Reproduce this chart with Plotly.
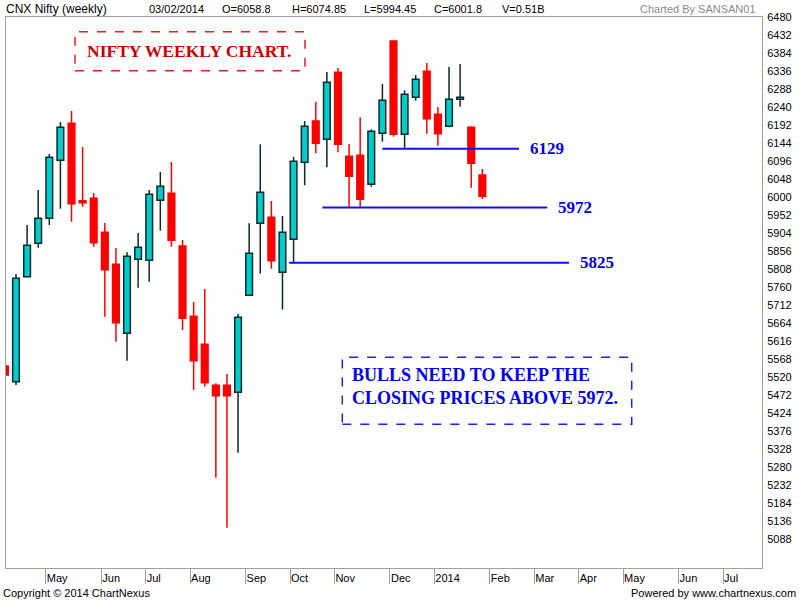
import plotly.graph_objects as go
import pandas as pd

# ---------------- data (weekly CNX Nifty, week starting 8 Apr 2013) ----------------
first_week = "2013-04-08"
n_slots = 70  # weekly slots shown on the axis (incl. empty future weeks)

opens = [5549.3, 5507.5, 5787.5, 5876.5, 5943.2, 6097.9, 6196.5, 5990.1, 5996.5, 5905.9,
         5820.5, 5636.5, 5833.9, 5831.2, 5991.2, 6009.9, 5869.3, 5681.9, 5607.2, 5497.9,
         5497.9, 5479.2, 5737.9, 5929.9, 5945.9, 5799.2, 5887.2, 6092.5, 6202.7, 6153.9,
         6332.5, 6108.5, 6111.2, 6033.9, 6169.9, 6416.0, 6167.2, 6265.9, 6335.2, 6220.5,
         6188.5, 6260.5, 6185.9, 6058.8]
highs = [5555.0, 5794.7, 5925.3, 6018.7, 6114.7, 6200.0, 6229.3, 6133.3, 6010.7, 5930.7,
         5864.0, 5852.5, 5904.0, 6018.7, 6066.7, 6093.3, 5885.3, 5720.0, 5754.7, 5503.2,
         5528.0, 5688.0, 5929.9, 6140.5, 5989.3, 5949.3, 6106.7, 6202.7, 6253.3, 6333.3,
         6344.0, 6141.3, 6212.5, 6180.5, 6301.3, 6416.0, 6284.5, 6325.3, 6357.3, 6240.0,
         6346.7, 6354.7, 6188.5, 6074.85]
lows = [5520.0, 5498.7, 5786.0, 5864.8, 5925.3, 5968.8, 5934.1, 5974.1, 5867.5, 5680.8,
        5614.1, 5563.5, 5758.1, 5774.1, 5910.1, 5867.5, 5645.3, 5485.3, 5494.1, 5251.5,
        5118.1, 5318.1, 5736.0, 5795.5, 5808.8, 5700.0, 5822.7, 6031.2, 6116.5, 6079.2,
        6119.2, 5969.9, 5969.9, 6027.5, 6147.5, 6160.8, 6129.9, 6256.8, 6168.8, 6136.8,
        6186.0, 6240.8, 6024.8, 5994.45]
closes = [5525.3, 5783.2, 5871.2, 5943.2, 6105.9, 6185.9, 5982.1, 5984.8, 5878.1, 5806.1,
          5664.8, 5841.9, 5865.9, 6007.2, 6028.5, 5884.5, 5676.5, 5563.5, 5504.8, 5470.1,
          5470.1, 5679.2, 5849.9, 6012.5, 5830.1, 5905.9, 6095.2, 6188.5, 6143.2, 6305.9,
          6140.5, 6055.2, 5993.9, 6175.2, 6257.9, 6167.2, 6273.9, 6313.9, 6208.8, 6168.8,
          6260.5, 6265.9, 6089.9, 6001.8]

# horizontal support / resistance levels: value, first week index, last week index
level_values = [6129, 5972, 5825]
level_labels = ["6129", "5972", "5825"]
level_start = [34.0, 28.6, 25.6]
level_end = [46.3, 48.85, 50.8]

y_ticks = list(range(5088, 6481, 48))

header_items = ["03/02/2014", "O=6058.8", "H=6074.85", "L=5994.45", "C=6001.8", "V=0.51B"]

# ---------------- derived ----------------
weeks = pd.date_range(first_week, periods=n_slots, freq="7D")
tick_vals, tick_text = [], []
prev_month = (weeks[0] + pd.Timedelta(days=4)).month
for i, w in enumerate(weeks):
    fri = w + pd.Timedelta(days=4)
    if i > 0 and fri.month != prev_month:
        tick_vals.append(i + 0.68)
        tick_text.append(str(fri.year) if fri.month == 1 else fri.strftime("%b"))
    prev_month = fri.month

CYAN = "#00cccc"
DARK = "#0a2a2a"
RED = "#ff0000"

fig = go.Figure()

# wicks (two segments each so they do not cross the body)
for up in (True, False):
    xs, ys = [], []
    for i, (o, h, l, c) in enumerate(zip(opens, highs, lows, closes)):
        if (c >= o) != up:
            continue
        top, bot = max(o, c), min(o, c)
        xs += [i, i, None, i, i, None]
        ys += [top, h, None, l, bot, None]
    fig.add_trace(go.Scatter(x=xs, y=ys, mode="lines", hoverinfo="skip",
                             line=dict(color=DARK if up else RED, width=1.5),
                             showlegend=False, cliponaxis=True))

# bodies
for up in (True, False):
    idx = [i for i in range(len(opens)) if (closes[i] >= opens[i]) == up]
    fig.add_trace(go.Bar(
        x=idx,
        y=[max(abs(closes[i] - opens[i]), 3) for i in idx],
        base=[min(opens[i], closes[i]) for i in idx],
        width=0.6,
        marker=dict(color=CYAN if up else RED,
                    line=dict(color=DARK if up else RED, width=1.5)),
        showlegend=False, hoverinfo="skip"))

# level lines + labels
for v, lab, x0, x1 in zip(level_values, level_labels, level_start, level_end):
    fig.add_shape(type="line", xref="x", yref="y", x0=x0, x1=x1, y0=v, y1=v,
                  line=dict(color="#1010f0", width=2))
    fig.add_annotation(x=x1 + 0.8, y=v, xref="x", yref="y", text=lab, showarrow=False,
                       xanchor="left", yanchor="middle",
                       font=dict(family="Liberation Serif, Times New Roman, serif",
                                 size=17, color="#0000ee", weight="bold"))

def px_x(p):
    return (p - 6) / 756.0

def px_y(p):
    return (568 - p) / 551.0

# red dashed title box
fig.add_shape(type="rect", xref="paper", yref="paper",
              x0=px_x(75), x1=px_x(305), y0=px_y(70.7), y1=px_y(31.7),
              line=dict(color="#dd2222", width=1.5, dash="dash"))
fig.add_annotation(xref="paper", yref="paper", x=px_x(189), y=px_y(51),
                   text="NIFTY WEEKLY CHART.", showarrow=False,
                   xanchor="center", yanchor="middle",
                   font=dict(family="Liberation Serif, Times New Roman, serif",
                             size=17.5, color="#cc0000", weight="bold"))

# blue dashed note box
fig.add_shape(type="rect", xref="paper", yref="paper",
              x0=px_x(342.3), x1=px_x(631.7), y0=px_y(424.3), y1=px_y(357.3),
              line=dict(color="#2020ee", width=1.5, dash="dash"))
fig.add_annotation(xref="paper", yref="paper", x=px_x(350), y=px_y(386),
                   text="BULLS NEED TO KEEP THE<br>CLOSING PRICES ABOVE 5972.",
                   showarrow=False, xanchor="left", yanchor="middle", align="left",
                   font=dict(family="Liberation Serif, Times New Roman, serif",
                             size=18, color="#0000ee", weight="bold"))

# header texts
hdr_font = dict(family="Liberation Sans, Arial, sans-serif", size=11, color="#000000")
fig.add_annotation(xref="paper", yref="paper", x=px_x(4), y=px_y(9), text="CNX Nifty (weekly)",
                   showarrow=False, xanchor="left", yanchor="middle",
                   font=dict(family="Liberation Sans, Arial, sans-serif", size=12, color="#000000"))
for txt, xp in zip(header_items, [147, 220, 290, 362, 432, 500]):
    fig.add_annotation(xref="paper", yref="paper", x=px_x(xp), y=px_y(9), text=txt,
                       showarrow=False, xanchor="left", yanchor="middle", font=hdr_font)
fig.add_annotation(xref="paper", yref="paper", x=px_x(758), y=px_y(9), text="Charted By SANSAN01",
                   showarrow=False, xanchor="right", yanchor="middle",
                   font=dict(family="Liberation Sans, Arial, sans-serif", size=11, color="#8a8a8a"))

# footer texts
fig.add_annotation(xref="paper", yref="paper", x=px_x(1), y=px_y(593),
                   text="Copyright © 2014 ChartNexus", showarrow=False,
                   xanchor="left", yanchor="middle", font=hdr_font)
fig.add_annotation(xref="paper", yref="paper", x=px_x(798), y=px_y(593),
                   text="Powered by www.chartnexus.com", showarrow=False,
                   xanchor="right", yanchor="middle", font=hdr_font)

axis_font = dict(family="Liberation Sans, Arial, sans-serif", size=11, color="#000000")
fig.update_layout(
    width=800, height=600,
    margin=dict(l=6, r=38, t=17, b=32),
    paper_bgcolor="white", plot_bgcolor="white",
    barmode="overlay", showlegend=False,
    xaxis=dict(range=[0.1, 68.19], tickmode="array", tickvals=tick_vals, ticktext=tick_text,
               ticks="outside", ticklen=15, tickcolor="#a0a0a0", tickwidth=1,
               ticklabelposition="outside right", ticklabelstandoff=0,
               showline=True, linecolor="#a0a0a0", linewidth=1, mirror=True,
               showgrid=False, zeroline=False, tickfont=axis_font),
    yaxis=dict(range=[5010.7, 6480], side="right", tickmode="array", tickvals=y_ticks,
               ticks="", showline=True, linecolor="#a0a0a0", linewidth=1, mirror=True,
               showgrid=False, zeroline=False, tickfont=axis_font, ticklabelstandoff=2),
)

fig.write_html("out.html", config={"displayModeBar": False},
               post_script="document.body.style.margin='0';")
